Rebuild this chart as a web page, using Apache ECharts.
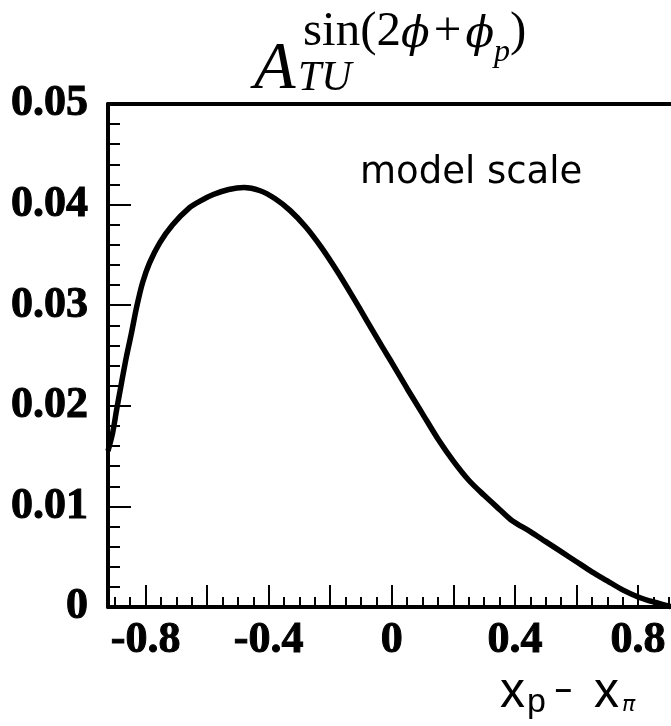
<!DOCTYPE html>
<html>
<head>
<meta charset="utf-8">
<script src="https://cdn.jsdelivr.net/npm/echarts@6/dist/echarts.min.js"></script>
<style>
html,body{margin:0;padding:0;background:#fff;}
#c{width:671px;height:726px;}
</style>
</head>
<body>
<div id="c"></div>
<script>
// ---- data ----
var curveX = [-0.922, -0.907, -0.894, -0.878, -0.862, -0.846, -0.829, -0.81, -0.787, -0.754, -0.712, -0.657, -0.62, -0.58, -0.53, -0.48, -0.43, -0.38, -0.33, -0.28, -0.23, -0.18, -0.13, -0.08, -0.03, 0.0, 0.05, 0.1, 0.15, 0.2, 0.25, 0.3, 0.35, 0.39, 0.45, 0.5, 0.55, 0.6, 0.65, 0.7, 0.75, 0.8, 0.85, 0.9, 0.907];
var curveY = [0.0155, 0.0173, 0.0196, 0.0223, 0.0249, 0.0272, 0.0298, 0.0322, 0.0342, 0.0362, 0.0380, 0.0397, 0.0404, 0.0410, 0.0415, 0.0417, 0.0414, 0.0406, 0.0394, 0.0378, 0.0358, 0.0335, 0.0310, 0.0284, 0.0258, 0.0243, 0.0217, 0.0192, 0.0167, 0.0145, 0.0126, 0.0111, 0.0097, 0.0086, 0.0075, 0.0065, 0.0055, 0.0045, 0.0035, 0.0026, 0.0017, 0.0010, 0.0005, 0.0001, 0.0];
var xMinorTicks = [-0.9, -0.85, -0.8, -0.75, -0.7, -0.65, -0.6, -0.55, -0.5, -0.45, -0.4, -0.35, -0.3, -0.25, -0.2, -0.15, -0.1, -0.05, 0, 0.05, 0.1, 0.15, 0.2, 0.25, 0.3, 0.35, 0.4, 0.45, 0.5, 0.55, 0.6, 0.65, 0.7, 0.75, 0.8, 0.85, 0.9];
var xMajorTicks = [-0.8, -0.6, -0.4, -0.2, 0, 0.2, 0.4, 0.6, 0.8];
var xTickLabels = [-0.8, -0.4, 0, 0.4, 0.8];
var yMin = 0, yMax = 0.05, yStep = 0.01;
var xMin = -0.922, xMax = 0.907;

var data = curveX.map(function (x, i) { return [x, curveY[i]]; });

var labelFont = {
  color: '#000', fontFamily: 'Liberation Serif', fontWeight: 'bold', fontSize: 44,
  textBorderColor: '#000', textBorderWidth: 1
};

var chart = echarts.init(document.getElementById('c'), null, {renderer: 'canvas'});
chart.setOption({
  animation: false,
  backgroundColor: '#fff',
  grid: {left: 108, right: 0, top: 104, bottom: 119, containLabel: false},
  xAxis: [
    {
      type: 'value', min: xMin, max: xMax, position: 'bottom',
      axisLine: {show: true, onZero: false, lineStyle: {color: '#000', width: 4}},
      axisTick: {show: true, inside: true, length: 10, customValues: xMinorTicks, lineStyle: {color: '#000', width: 2}},
      axisLabel: {show: false},
      splitLine: {show: false}
    },
    {
      type: 'value', min: xMin, max: xMax, position: 'bottom',
      axisLine: {show: false, onZero: false},
      axisTick: {show: true, inside: true, length: 22, customValues: xMajorTicks, lineStyle: {color: '#000', width: 2}},
      axisLabel: Object.assign({show: true, margin: 12, customValues: xTickLabels,
        formatter: function (v) { return v === 0 ? '0' : String(v); }}, labelFont),
      splitLine: {show: false}
    },
    {
      type: 'value', min: xMin, max: xMax, position: 'top',
      axisLine: {show: true, onZero: false, lineStyle: {color: '#000', width: 4}},
      axisTick: {show: false}, axisLabel: {show: false}, splitLine: {show: false}
    }
  ],
  yAxis: {
    type: 'value', min: yMin, max: yMax, interval: yStep,
    axisLine: {show: true, onZero: false, lineStyle: {color: '#000', width: 4}},
    axisTick: {show: true, inside: true, length: 23, lineStyle: {color: '#000', width: 2}},
    minorTick: {show: true, splitNumber: 5, length: 12, lineStyle: {color: '#000', width: 2}},
    axisLabel: Object.assign({margin: 20,
      formatter: function (v) { return v === 0 ? '0' : v.toFixed(2); }}, labelFont),
    splitLine: {show: false}
  },
  series: [{
    type: 'line', xAxisIndex: 0, data: data, smooth: 0.3, showSymbol: false,
    lineStyle: {color: '#000', width: 5.5}, clip: true
  }],
  graphic: [
    {type: 'text', left: 254, top: 36, style: {text: 'A', fontFamily: 'Liberation Serif', fontStyle: 'italic', fontSize: 68, fill: '#000'}},
    {type: 'text', left: 298, top: 58, style: {text: 'TU', fontFamily: 'Liberation Serif', fontStyle: 'italic', fontSize: 42, fill: '#000'}},
    {type: 'text', left: 303, top: 8, style: {
      text: '{r|sin(2}{i|\u03D5}{r|\u200A+\u200A}{i|\u03D5}{s|p}{r|)}',
      rich: {
        r: {fontFamily: 'Liberation Serif', fontSize: 49, fill: '#000', verticalAlign: 'bottom'},
        i: {fontFamily: 'DejaVu Serif', fontStyle: 'italic', fontSize: 42, fill: '#000', verticalAlign: 'bottom'},
        s: {fontFamily: 'Liberation Serif', fontStyle: 'italic', fontSize: 32, fill: '#000', padding: [0, 0, -12, 0], verticalAlign: 'bottom'}
      }
    }},
    {type: 'text', left: 360, top: 155, style: {text: 'model scale', fontFamily: 'DejaVu Sans', fontSize: 37, fill: '#000'}},
    {type: 'text', left: 500, top: 668, style: {text: 'x', fontFamily: 'Liberation Sans', fontSize: 50, fill: '#000'}},
    {type: 'text', left: 527, top: 686, style: {text: 'p', fontFamily: 'Liberation Sans', fontSize: 34, fill: '#000'}},
    {type: 'text', left: 555, top: 676, style: {text: '–', fontFamily: 'Liberation Sans', fontSize: 30, fontWeight: 'bold', fill: '#000'}},
    {type: 'text', left: 594, top: 668, style: {text: 'x', fontFamily: 'Liberation Sans', fontSize: 50, fill: '#000'}},
    {type: 'text', left: 622, top: 694, style: {text: 'π', fontFamily: 'DejaVu Sans', fontStyle: 'italic', fontSize: 22, fill: '#000'}}
  ]
});
</script>
</body>
</html>
